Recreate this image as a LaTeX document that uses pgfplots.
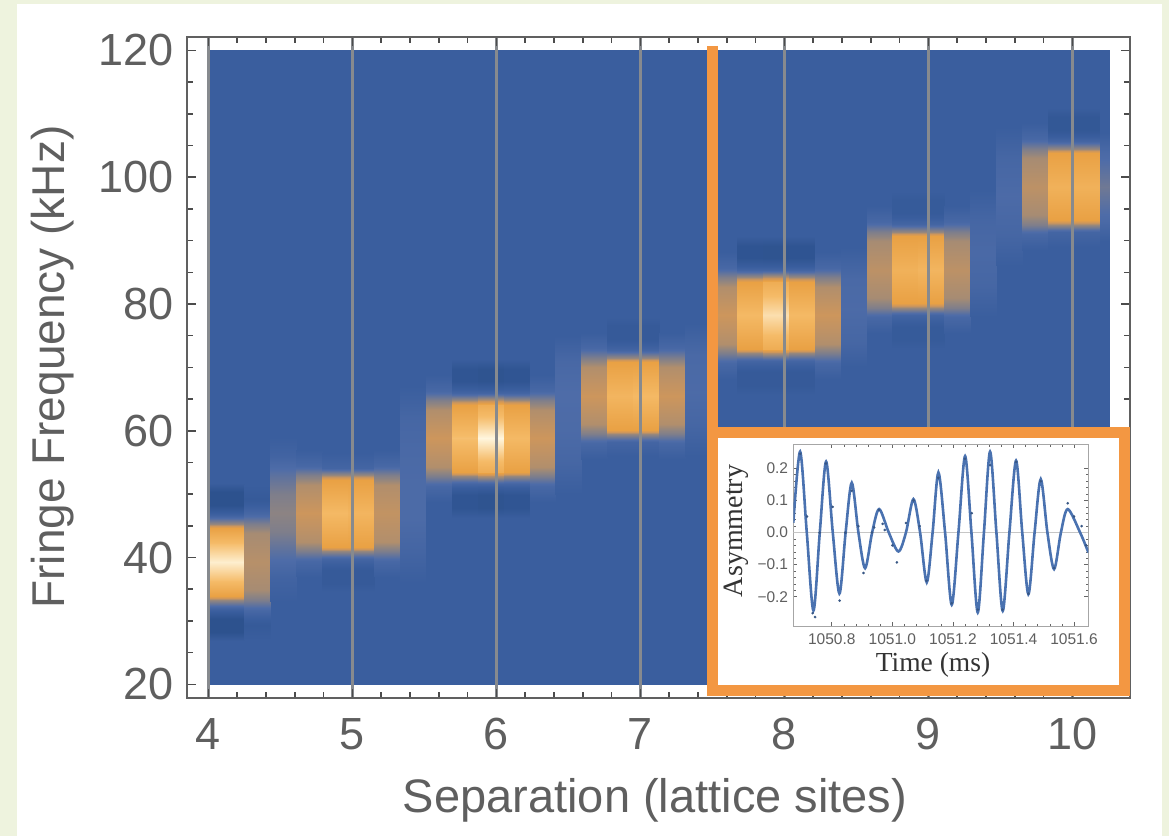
\documentclass[border=0pt]{standalone}
\usepackage{fontspec}
\setmainfont{Liberation Sans}
\newfontfamily\timesf{Liberation Serif}
\usepackage{pgfplots}
\pgfplotsset{compat=1.18}
\definecolor{pagebg}{RGB}{238,243,222}
\definecolor{txt}{RGB}{95,95,95}
\definecolor{orng}{RGB}{243,151,66}
\definecolor{gridc}{RGB}{135,138,142}
\definecolor{curvec}{RGB}{74,114,176}
\pgfplotsset{colormap={heat}{rgb255(0cm)=(36,74,132) rgb255(25cm)=(58,94,158) rgb255(35cm)=(78,108,168) rgb255(50cm)=(150,135,125) rgb255(60cm)=(205,150,92) rgb255(72cm)=(233,161,68) rgb255(85cm)=(245,187,104) rgb255(100cm)=(255,246,222)}}
% one heat-map column: left edge, right edge, list of frequency/value pairs
\newcommand\hcol[3]{%
  \gdef\pts{}\gdef\prevy{}\gdef\prevv{}%
  \foreach \yy/\vv in {#3}{%
    \ifx\prevy\empty\else
      \xdef\pts{\pts (#1,\prevy) [\prevv] (#2,\prevy) [\prevv] (#2,\yy) [\vv] (#1,\yy) [\vv]}%
    \fi
    \xdef\prevy{\yy}\xdef\prevv{\vv}}%
  \edef\tmp{\noexpand\addplot[patch,patch type=rectangle,shader=interp,point meta=explicit] coordinates {\pts};}%
  \tmp}
\begin{document}
\begin{tikzpicture}
\fill[pagebg] (0pt,0pt) rectangle (1169pt,836pt);
\fill[white] (17pt,0pt) rectangle (1162pt,832pt);
\begin{axis}[
  at={(186.7pt,137.7pt)}, anchor=south west, scale only axis,
  width=943.3pt, height=661pt,
  xmin=3.849, xmax=10.40, ymin=17.79, ymax=122.08,
  colormap name=heat, point meta min=0, point meta max=1,
  axis on top,
  xtick={4,5,6,7,8,9,10}, xticklabels={4,5,6,7,8,9,10},
  ytick={20,40,60,80,100,120}, yticklabels={20,40,60,80,100,120},
  minor x tick num=4, minor y tick num=3,
  tick align=inside, major tick length=9pt, minor tick length=6pt,
  xmajorgrids, x grid style={gridc, line width=2.5pt},
  axis line style={draw=gray!75!black, line width=1.8pt},
  every tick/.style={gray!60!black, line width=1.5pt},
  tick label style={font=\fontsize{45}{45}\selectfont, text=txt},
  yticklabel style={inner sep=0pt, xshift=-13pt},
  xticklabel style={inner sep=0pt, yshift=-20pt},
]
\addplot[patch,patch type=rectangle,shader=interp,point meta=explicit] coordinates {(4,20) [0.25] (10.26,20) [0.25] (10.26,120) [0.25] (4,120) [0.25]};
% separation 4
\hcol{4.00}{4.25}{26.8/0.25, 28.3/0.1, 30.3/0.1, 32.1/0.3, 33.3/0.5, 34/0.72, 36.5/0.86, 39.3/0.98, 42.1/0.86, 44.6/0.72, 45.3/0.5, 46.5/0.3, 48.3/0.1, 50.3/0.1, 51.8/0.25}
\hcol{4.25}{4.43}{27/0.25, 29.3/0.2, 31.8/0.32, 33.3/0.45, 34.8/0.53, 39.3/0.56, 43.8/0.53, 45.3/0.45, 46.8/0.32, 49.3/0.2, 51.5/0.25}
\hcol{4.43}{4.61}{33/0.25, 37/0.29, 41/0.38, 44/0.45, 47/0.48, 50/0.45, 53/0.38, 56/0.29, 59/0.25}
% separation 5
\hcol{4.61}{4.79}{37/0.25, 39.5/0.32, 41/0.45, 42.5/0.55, 47/0.6, 51.5/0.55, 53/0.45, 54.5/0.32, 57/0.25}
\hcol{4.79}{4.97}{34.5/0.25, 36/0.2, 38/0.2, 39.8/0.3, 41/0.5, 41.7/0.72, 47/0.84, 52.3/0.72, 53/0.5, 54.2/0.3, 56.5/0.25}
\hcol{4.97}{5.15}{34.5/0.25, 36/0.2, 38/0.2, 39.8/0.3, 41/0.5, 41.7/0.72, 47/0.82, 52.3/0.72, 53/0.5, 54.2/0.3, 56.5/0.25}
\hcol{5.15}{5.33}{37/0.25, 39.5/0.32, 41/0.45, 42.5/0.55, 47/0.58, 51.5/0.55, 53/0.45, 54.5/0.32, 57/0.25}
\hcol{5.33}{5.51}{36/0.25, 41/0.3, 46/0.34, 52/0.34, 57/0.33, 62/0.31, 67/0.25}
% separation 6
\hcol{5.51}{5.69}{48.8/0.25, 51.3/0.32, 52.8/0.45, 54.3/0.55, 58.8/0.6, 63.3/0.55, 64.8/0.45, 66.3/0.32, 68.8/0.25}
\hcol{5.69}{5.87}{46.3/0.25, 47.8/0.14, 49.8/0.14, 51.6/0.3, 52.8/0.5, 53.5/0.72, 58.8/0.86, 64.1/0.72, 64.8/0.5, 66/0.3, 67.8/0.14, 69.8/0.14, 71.3/0.25}
\hcol{5.87}{6.05}{46.3/0.25, 47.8/0.12, 49.8/0.12, 51.6/0.3, 52.8/0.55, 53.5/0.78, 56/0.88, 58.8/1.0, 61.6/0.88, 64.1/0.78, 64.8/0.55, 66/0.3, 67.8/0.12, 69.8/0.12, 71.3/0.25}
\hcol{6.05}{6.23}{46.3/0.25, 47.8/0.14, 49.8/0.14, 51.6/0.3, 52.8/0.5, 53.5/0.72, 58.8/0.84, 64.1/0.72, 64.8/0.5, 66/0.3, 67.8/0.14, 69.8/0.14, 71.3/0.25}
\hcol{6.23}{6.41}{48.8/0.25, 51.3/0.32, 52.8/0.45, 54.3/0.55, 58.8/0.6, 63.3/0.55, 64.8/0.45, 66.3/0.32, 68.8/0.25}
\hcol{6.41}{6.59}{50/0.25, 55/0.31, 60/0.34, 66/0.35, 71/0.32, 75/0.25}
% separation 7
\hcol{6.59}{6.77}{55.5/0.25, 58/0.32, 59.5/0.45, 61/0.55, 65.5/0.6, 70/0.55, 71.5/0.45, 73/0.32, 75.5/0.25}
\hcol{6.77}{6.95}{56/0.25, 58.3/0.3, 59.5/0.5, 60.2/0.72, 65.5/0.82, 70.8/0.72, 71.5/0.5, 72.7/0.3, 74.5/0.2, 76.5/0.2, 78/0.25}
\hcol{6.95}{7.13}{56/0.25, 58.3/0.3, 59.5/0.5, 60.2/0.72, 65.5/0.84, 70.8/0.72, 71.5/0.5, 72.7/0.3, 74.5/0.2, 76.5/0.2, 78/0.25}
\hcol{7.13}{7.31}{55.5/0.25, 58/0.32, 59.5/0.45, 61/0.55, 65.5/0.6, 70/0.55, 71.5/0.45, 73/0.32, 75.5/0.25}
\hcol{7.31}{7.49}{56/0.25, 61/0.31, 66/0.34, 72/0.33, 77/0.25}
% separation 8
\hcol{7.49}{7.67}{68.2/0.25, 70.7/0.32, 72.2/0.45, 73.7/0.55, 78.2/0.6, 82.7/0.55, 84.2/0.45, 85.7/0.32, 88.2/0.25}
\hcol{7.67}{7.85}{65.7/0.25, 67.2/0.2, 69.2/0.2, 71/0.3, 72.2/0.5, 72.9/0.72, 78.2/0.84, 83.5/0.72, 84.2/0.5, 85.4/0.3, 87.2/0.13, 89.2/0.13, 90.7/0.25}
\hcol{7.85}{8.03}{65.7/0.25, 67.2/0.2, 69.2/0.2, 71/0.3, 72.2/0.55, 72.9/0.78, 75.5/0.86, 78.2/0.94, 80.9/0.86, 83.5/0.78, 84.2/0.55, 85.4/0.3, 87.2/0.12, 89.2/0.12, 90.7/0.25}
\hcol{8.03}{8.21}{65.7/0.25, 67.2/0.2, 69.2/0.2, 71/0.3, 72.2/0.5, 72.9/0.72, 78.2/0.84, 83.5/0.72, 84.2/0.5, 85.4/0.3, 87.2/0.13, 89.2/0.13, 90.7/0.25}
\hcol{8.21}{8.39}{68.2/0.25, 70.7/0.32, 72.2/0.45, 73.7/0.55, 78.2/0.6, 82.7/0.55, 84.2/0.45, 85.7/0.32, 88.2/0.25}
\hcol{8.39}{8.57}{70/0.25, 74/0.31, 79/0.34, 84/0.33, 89/0.25}
% separation 9
\hcol{8.57}{8.75}{75.4/0.25, 77.9/0.32, 79.4/0.45, 80.9/0.53, 85.4/0.57, 89.9/0.53, 91.4/0.45, 92.9/0.32, 95.4/0.25}
\hcol{8.75}{8.93}{72.9/0.25, 74.4/0.21, 76.4/0.21, 78.2/0.3, 79.4/0.5, 80.1/0.72, 85.4/0.8, 90.7/0.72, 91.4/0.5, 92.6/0.3, 94.4/0.21, 96.4/0.21, 97.9/0.25}
\hcol{8.93}{9.11}{72.9/0.25, 74.4/0.21, 76.4/0.21, 78.2/0.3, 79.4/0.5, 80.1/0.72, 85.4/0.82, 90.7/0.72, 91.4/0.5, 92.6/0.3, 94.4/0.21, 96.4/0.21, 97.9/0.25}
\hcol{9.11}{9.29}{75.4/0.25, 77.9/0.32, 79.4/0.45, 80.9/0.53, 85.4/0.57, 89.9/0.53, 91.4/0.45, 92.9/0.32, 95.4/0.25}
\hcol{9.29}{9.47}{78/0.25, 83/0.31, 88/0.33, 93/0.31, 98/0.25}
% separation 10
\hcol{9.47}{9.65}{86/0.25, 91/0.31, 97/0.34, 103/0.31, 108/0.25}
\hcol{9.65}{9.83}{88.5/0.25, 91/0.32, 92.5/0.45, 94/0.53, 98.5/0.57, 103/0.53, 104.5/0.45, 106/0.32, 108.5/0.25}
\hcol{9.83}{10.01}{89/0.25, 91.3/0.3, 92.5/0.5, 93.2/0.72, 98.5/0.8, 103.8/0.72, 104.5/0.5, 105.7/0.3, 107.5/0.17, 109.5/0.17, 111/0.25}
\hcol{10.01}{10.19}{89/0.25, 91.3/0.3, 92.5/0.5, 93.2/0.72, 98.5/0.8, 103.8/0.72, 104.5/0.5, 105.7/0.3, 107.5/0.17, 109.5/0.17, 111/0.25}
\hcol{10.19}{10.26}{90/0.25, 93/0.33, 98.5/0.42, 104/0.33, 107/0.25}
\end{axis}
% axis labels
\node[rotate=90, font=\fontsize{46}{46}\selectfont, text=txt] at (53pt,469pt) {Fringe Frequency (kHz)};
\node[anchor=base, font=\fontsize{47}{47}\selectfont, text=txt] at (655pt,24pt) {Separation (lattice sites)};
% orange highlight and inset box
\draw[orng, line width=11pt] (712.3pt,790pt) -- (712.3pt,403.5pt);
\draw[orng, line width=11pt, fill=white] (712.3pt,146pt) rectangle (1124.3pt,403.5pt);
\begin{axis}[
  at={(793.3pt,210pt)}, anchor=south west, scale only axis,
  width=295pt, height=182pt,
  xmin=1050.673, xmax=1051.647, ymin=-0.291, ymax=0.2757,
  scaled x ticks=false, scaled y ticks=false,
  xtick={1050.8,1051.0,1051.2,1051.4,1051.6}, xticklabels={1050.8,1051.0,1051.2,1051.4,1051.6},
  ytick={-0.2,-0.1,0,0.1,0.2}, yticklabels={−0.2,−0.1,0.0,0.1,0.2},
  minor x tick num=4, minor y tick num=4,
  tick align=inside, major tick length=4pt, minor tick length=2.5pt,
  axis line style={draw=gray!70, line width=0.8pt},
  every tick/.style={gray!80!black, line width=0.6pt},
  tick label style={font=\fontsize{15.5}{15.5}\selectfont, text=txt},
  yticklabel style={inner sep=0pt, xshift=-5pt},
  xticklabel style={inner sep=0pt, yshift=-7pt},
  clip=true,
]
\addplot[gray!45, line width=0.8pt] coordinates {(1050.673,0) (1051.647,0)};
\addplot[curvec, line width=2.6pt, smooth] coordinates {
(1050.673,0.03) (1050.6955,0.252) (1050.7175,0.0) (1050.7395,-0.243)
(1050.7604,0.0) (1050.7813,0.221) (1050.8033,0.0) (1050.8253,-0.19)
(1050.8457,0.0) (1050.866,0.155) (1050.888,0.0) (1050.910,-0.111)
(1050.9332,0.0) (1050.9563,0.073) (1050.9882,0.0) (1051.0201,-0.059)
(1051.0449,0.0) (1051.0696,0.104) (1051.0916,0.0) (1051.1136,-0.155)
(1051.1329,0.0) (1051.1521,0.187) (1051.1741,0.0) (1051.1961,-0.225)
(1051.2182,0.0) (1051.2402,0.238) (1051.2611,0.0) (1051.282,-0.249)
(1051.3024,0.0) (1051.3227,0.252) (1051.3436,0.0) (1051.3645,-0.244)
(1051.3865,0.0) (1051.4085,0.224) (1051.4289,0.0) (1051.4492,-0.192)
(1051.4696,0.0) (1051.490,0.166) (1051.512,0.0) (1051.534,-0.114)
(1051.5565,0.0) (1051.579,0.073) (1051.62,0.0) (1051.6473,-0.062)};
\addplot[only marks, mark=*, mark size=1.1pt, color=curvec!75!black] coordinates {
(1050.696,0.245) (1050.718,0.05) (1050.737,-0.251) (1050.745,-0.263) (1050.76,0.0)
(1050.781,0.215) (1050.803,0.08) (1050.826,-0.212) (1050.845,0.0) (1050.866,0.13)
(1050.888,0.02) (1050.905,-0.126) (1050.933,0.0) (1050.94,0.016) (1050.956,0.07)
(1050.968,0.027) (1050.975,0.008) (1051.0,-0.04) (1051.015,-0.093) (1051.045,0.03)
(1051.07,0.1) (1051.09,0.02) (1051.113,-0.15) (1051.152,0.17) (1051.196,-0.22)
(1051.24,0.23) (1051.262,0.06) (1051.282,-0.24) (1051.323,0.21) (1051.364,-0.24)
(1051.409,0.22) (1051.449,-0.19) (1051.49,0.16) (1051.534,-0.11) (1051.579,0.091)
(1051.6,0.05) (1051.625,0.02) (1051.64,-0.04)};
\end{axis}
\node[rotate=90, font=\timesf\fontsize{28}{28}\selectfont, text=black!80] at (736pt,305pt) {Asymmetry};
\node[font=\timesf\fontsize{27.5}{27.5}\selectfont, text=black!80] at (933pt,171pt) {Time (ms)};
\pgfresetboundingbox
\useasboundingbox (0pt,0pt) rectangle (1169pt,836pt);
\end{tikzpicture}
\end{document}
